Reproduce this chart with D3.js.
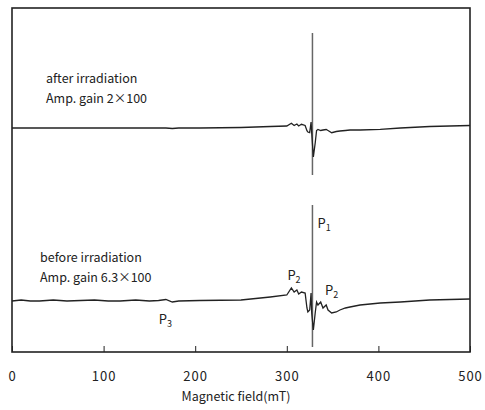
<!DOCTYPE html>
<html><head><meta charset="utf-8">
<script src="https://cdn.jsdelivr.net/npm/d3@7"></script>
<style>
html,body{margin:0;padding:0;background:#fff;}
svg text{font-family:"Noto Sans CJK JP","DejaVu Sans",sans-serif;fill:#222;}
</style></head>
<body><svg id="c" width="485" height="410"></svg>
<script>
// Magnetic field (mT)
const fields = [0,10,20,30,45,60,75,90,105,118,135,150,160,168,175,182,205,250,282,300,305,308,311,313,316,320,322,323,325,326.5,327.2,329,331,332.5,334,337,339.5,343,345,349,354,358,364,369,380,402,424,456,500];
// ESR derivative signal (a.u.), after irradiation (gain 2x100)
const afterSignal = [0,0,0,0,0,0,0,0,0,0,0,0,0,0,-0.5,0,0,0.5,1.5,2,4.7,2.5,4,2,3.7,2.5,-2.7,-4,-4.7,6,-5,-29,-15,-2.5,-1.5,-2.5,-2,-1.5,-2.5,-4.7,-3.5,-3,-2.5,-2,-2,-1.3,0,1.5,2.5];
// ESR derivative signal (a.u.), before irradiation (gain 6.3x100)
const beforeSignal = [-1,0,-1,-1,0,-1,-0.5,0,-1,-1,0,-1,-0.5,0.5,-2,-1,-0.5,0,3,5,12,8,10,6,8,7,-8,-12,-10,7,-13,-30,-13,-2,-5,-2,-8,-5,-10,-13,-12,-10,-8,-7,-5,-3,-2,0,1];
// Reference marker line
const markerField = 328;
const afterMarker = [95,-47];
const beforeMarker = [95,-47];
const xTicks = [0,100,200,300,400,500];
const xTitle = "Magnetic field(mT)";
const labelsAfter = ["after irradiation","Amp. gain 2\u00d7100"];
const labelsBefore = ["before irradiation","Amp. gain 6.3\u00d7100"];
// Peak labels: name, subscript, field, signal anchor
const peakNames = ["1","2","2","3"];
const peakFields = [328,305,345,170];
const peakSignals = [95,12,-10,0];

const svg = d3.select("#c");
const L=12, T=8, W=458, H=344;
const x = d3.scaleLinear().domain([0,500]).range([L,L+W]);
const y = d3.scaleLinear().domain([0,344]).range([T+H,T]);
const offAfter = 224, offBefore = 52;

const line = off => d3.line().x((d,i)=>x(fields[i])).y(d=>y(d+off));

// marker lines (gray)
[[afterMarker,offAfter],[beforeMarker,offBefore]].forEach(([m,off])=>{
  svg.append("line").attr("x1",x(markerField)).attr("x2",x(markerField))
    .attr("y1",y(m[0]+off)).attr("y2",y(m[1]+off))
    .attr("stroke","#666").attr("stroke-width",1.5);
});
svg.append("path").datum(afterSignal).attr("d",line(offAfter))
  .attr("fill","none").attr("stroke","#222").attr("stroke-width",1.3);
svg.append("path").datum(beforeSignal).attr("d",line(offBefore))
  .attr("fill","none").attr("stroke","#222").attr("stroke-width",1.3);

// frame
svg.append("rect").attr("x",L).attr("y",T).attr("width",W).attr("height",H)
  .attr("fill","none").attr("stroke","#222").attr("stroke-width",1.6);

// x axis ticks (inside) and labels
const ax = svg.append("g").attr("transform",`translate(0,${T+H})`)
  .call(d3.axisBottom(x).tickValues(xTicks).tickSizeInner(-6).tickSizeOuter(0).tickPadding(20));
ax.select(".domain").remove();
ax.selectAll(".tick line").attr("stroke","#222").attr("stroke-width",1);
ax.selectAll(".tick text").attr("font-size",13).attr("letter-spacing",1)
  .style("font-family",'"Noto Sans CJK JP","DejaVu Sans",sans-serif').attr("fill","#222");

svg.append("text").attr("x",236).attr("y",401).attr("text-anchor","middle")
  .attr("font-size",12.5).text(xTitle);

labelsAfter.forEach((t,i)=>svg.append("text").attr("x",46).attr("y",83+i*20).attr("font-size",12.5).text(t));
labelsBefore.forEach((t,i)=>svg.append("text").attr("x",40).attr("y",262+i*20).attr("font-size",12.5).text(t));

// peak labels (offsets in px from anchor)
const peakDx = [5,-4,-3,-9], peakDy = [23,-8,-15,24];
peakNames.forEach((n,i)=>{
  const t = svg.append("text").attr("font-size",13)
    .attr("x",x(peakFields[i])+peakDx[i]).attr("y",y(peakSignals[i]+offBefore)+peakDy[i]);
  t.append("tspan").text("P");
  t.append("tspan").attr("font-size",9).attr("dy",3).text(n);
});
</script></body></html>
